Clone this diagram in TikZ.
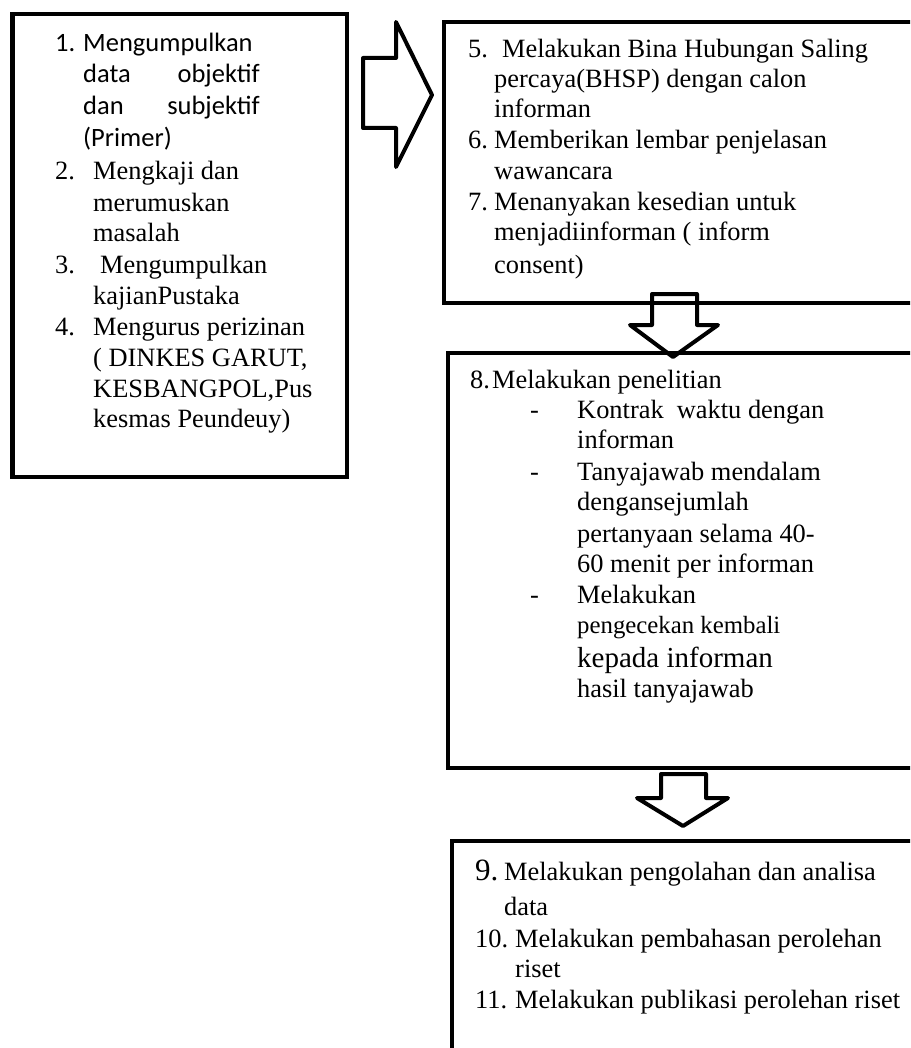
\documentclass[tikz,border=0pt]{standalone}
\usepackage{fontspec}
\newfontfamily\tnrfont{Liberation Serif}
\newfontfamily\calfont{Carlito}
\tikzset{
  boxline/.style={line width=4.6pt, line join=miter},
  blockarrow/.style={line width=4pt, line join=round},
  tx/.style={anchor=base west, inner sep=0pt, font=\tnrfont\fontsize{26.4}{30}\selectfont},
  txbig/.style={anchor=base west, inner sep=0pt, font=\tnrfont\fontsize{29}{32}\selectfont},
  txnine/.style={anchor=base west, inner sep=0pt, font=\tnrfont\fontsize{31}{34}\selectfont},
  txcond/.style={anchor=base west, inner sep=0pt, font=\tnrfont\fontsize{24.8}{30}\selectfont},
  cx/.style={anchor=base west, inner sep=0pt, font=\calfont\fontsize{26.5}{32}\selectfont},
  cxr/.style={anchor=base east, inner sep=0pt, font=\calfont\fontsize{26.5}{32}\selectfont},
}
\begin{document}
\begin{tikzpicture}[x=1pt,y=-1pt]
\useasboundingbox (0,0) rectangle (910,1048);
\clip (0,0) rectangle (910,1048);
\fill[white] (0,0) rectangle (910,1048);

% boxes
\coordinate (b1a) at (12.5,14); \coordinate (b1b) at (347,477);
\coordinate (b2a) at (444,22);  \coordinate (b2b) at (940,303);
\coordinate (b3a) at (448,353); \coordinate (b3b) at (940,768);
\coordinate (b4a) at (452,841); \coordinate (b4b) at (940,1080);
\draw[boxline] (b1a) rectangle (b1b);
\draw[boxline] (b2a) rectangle (b2b);
\draw[boxline] (b3a) rectangle (b3b);
\draw[boxline] (b4a) rectangle (b4b);

% block arrows
\draw[blockarrow] (363,58) -- (396,58) -- (396,22) -- (432,95) -- (396,167) -- (396,128) -- (363,128) -- cycle;
\draw[blockarrow] (652,294) -- (697,294) -- (697,325) -- (718,325) -- (673,357) -- (630,325) -- (652,325) -- cycle;
\draw[blockarrow] (661,774) -- (706,774) -- (706,798) -- (728,798) -- (683,826) -- (637,798) -- (661,798) -- cycle;

% box 1 text
\node[cx] (n1) at (55,52) {1.};
\node[cx] (n1a) at (83,52) {Mengumpulkan};
\node[cx] (n1b) at (83,83) {data};
\node[cxr] (n1c) at (260,83) {objektif};
\node[cx] (n1d) at (83,115) {dan};
\node[cxr] (n1e) at (260,115) {subjektif};
\node[cx] (n1f) at (83,147) {(Primer)};
\node[tx] (n2) at (55,180) {2.};
\node[tx] (n2a) at (93,180) {Mengkaji dan};
\node[tx] (n2b) at (93,212) {merumuskan};
\node[tx] (n2c) at (93,242) {masalah};
\node[tx] (n3) at (55,273) {3.};
\node[tx] (n3a) at (100,273) {Mengumpulkan};
\node[tx] (n3b) at (93,304) {kajianPustaka};
\node[tx] (n4) at (55,335) {4.};
\node[tx] (n4a) at (93,335) {Mengurus perizinan};
\node[tx] (n4b) at (93,366) {( DINKES GARUT,};
\node[tx] (n4c) at (93,397) {KESBANGPOL,Pus};
\node[tx] (n4d) at (93,427) {kesmas Peundeuy)};

% box 2 text
\node[tx] (n5) at (468,58) {5.};
\node[tx] (n5a) at (502,58) {Melakukan Bina Hubungan Saling};
\node[tx] (n5b) at (494,88) {percaya(BHSP) dengan calon};
\node[tx] (n5c) at (494,118) {informan};
\node[tx] (n6) at (468,149) {6.};
\node[tx] (n6a) at (494,149) {Memberikan lembar penjelasan};
\node[tx] (n6b) at (494,180) {wawancara};
\node[tx] (n7) at (468,211) {7.};
\node[tx] (n7a) at (494,211) {Menanyakan kesedian untuk};
\node[tx] (n7b) at (494,241) {menjadiinforman ( inform};
\node[tx] (n7c) at (494,273) {consent)};

% box 3 text
\node[tx] (n8) at (470,388) {8.};
\node[tx] (n8a) at (492,388) {Melakukan penelitian};
\node[tx] (d1) at (530,418) {-};
\node[tx] (n8b) at (577,418) {Kontrak\ \ waktu dengan};
\node[tx] (n8c) at (577,448) {informan};
\node[tx] (d2) at (530,480) {-};
\node[tx] (n8d) at (577,480) {Tanyajawab mendalam};
\node[tx] (n8e) at (577,510) {dengansejumlah};
\node[tx] (n8f) at (577,542) {pertanyaan selama 40-};
\node[tx] (n8g) at (577,572) {60 menit per informan};
\node[tx] (d3) at (530,603) {-};
\node[tx] (n8h) at (577,603) {Melakukan};
\node[txcond] (n8i) at (577,633) {pengecekan kembali};
\node[txbig] (n8j) at (577,667) {kepada informan};
\node[tx] (n8k) at (577,697) {hasil tanyajawab};

% box 4 text
\node[txnine] (n9) at (475,880) {9.};
\node[tx] (n9a) at (504,880) {Melakukan pengolahan dan analisa};
\node[tx] (n9b) at (504,915) {data};
\node[tx] (n10) at (475,947) {10.};
\node[tx] (n10a) at (515,947) {Melakukan pembahasan perolehan};
\node[tx] (n10b) at (515,977) {riset};
\node[tx] (n11) at (475,1008) {11.};
\node[tx] (n11a) at (515,1008) {Melakukan publikasi perolehan riset};
\end{tikzpicture}
\end{document}
